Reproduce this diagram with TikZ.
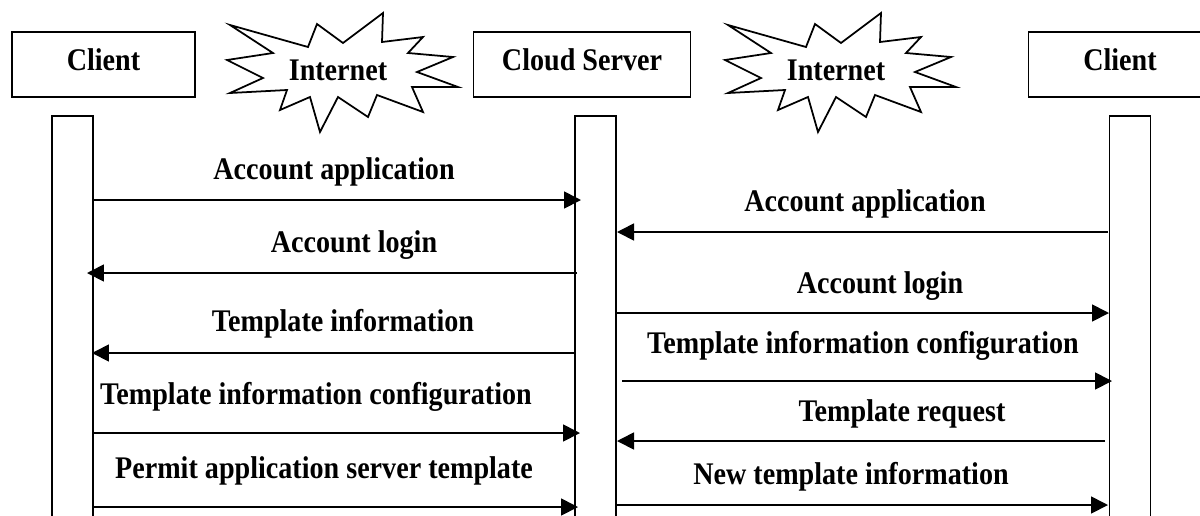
\documentclass[tikz,border=0pt]{standalone}
\usepackage{fontspec}
\setmainfont{Liberation Serif}
\usetikzlibrary{arrows.meta, positioning}
\newcommand{\tallbf}[1]{\scalebox{1}[1.12]{#1}}

\begin{document}
\begin{tikzpicture}[x=0.02cm, y=-0.02cm,
    every node/.style={font=\fontsize{16}{19}\selectfont\bfseries},
    head/.style={draw, line width=1pt, minimum width=3.66cm, minimum height=1.3cm, inner sep=0pt, text depth=0.2cm},
    life/.style={draw, line width=1pt, minimum width=0.82cm, minimum height=8.6cm, anchor=north, inner sep=0pt},
    msg/.style={line width=1pt, -{Triangle[length=3.4mm, width=3.4mm]}},
    burst/.style={draw, line width=1pt, line join=miter}]
  \useasboundingbox (0,0) rectangle (1200,515);

  % Participants
  \node[head] (client) at (103.5,64.5) {\tallbf{Client}};
  \node[head, minimum width=4.34cm] (server) at (582,64.5) {\tallbf{Cloud Server}\hspace{0.36cm}};
  \node[head] (client2) at (1120,64.5) {\tallbf{Client}};

  % Lifelines
  \node[life] (lifeA) at (72.5,115) {};
  \node[life] (lifeB) at (595.5,115) {};
  \node[life] (lifeC) at (1130,115) {};

  % Internet bursts between the participants
  \foreach \dx/\nm in {0/netA, 498/netB} {
    \begin{scope}[shift={(\dx,0)}]
      \draw[burst] (230,25) -- (308,47) -- (317,24) -- (343,43) -- (383,13) -- (382,42)
        -- (423,37) -- (408,53) -- (453,57) -- (417,72) -- (458,87) -- (412,87)
        -- (423,112) -- (377,95) -- (368,117) -- (338,97) -- (320,132) -- (310,97)
        -- (280,110) -- (287,90) -- (230,93) -- (263,78) -- (227,60) -- (273,53) -- cycle;
      \node[anchor=base] (\nm) at (338,80) {\tallbf{Internet}};
    \end{scope}
  }

  % Messages: number / arrow y / from x / to x / label x / label baseline / text
  \foreach \i/\ya/\xs/\xe/\xt/\yt/\txt in {
      1/200/93/581/334/179/Account application,
      2/273/577/87/354/252/Account login,
      3/353/574/92/343/331/Template information,
      4/433/93/580/316/404/Template information configuration,
      5/507/93/578/324/478/Permit application server template,
      6/232/1108/617/865/211/Account application,
      7/313/617/1109/880/293/Account login,
      8/381/622/1112/863/353/Template information configuration,
      9/441/1105/617/902/421/Template request,
      10/505/617/1108/851/484/New template information} {
    \coordinate (s\i) at (\xs,\ya);
    \coordinate (e\i) at (\xe,\ya);
    \draw[msg] (s\i) -- (e\i);
    \node[anchor=base] (t\i) at (\xt,\yt) {\tallbf{\txt}};
  }
\end{tikzpicture}
\end{document}
